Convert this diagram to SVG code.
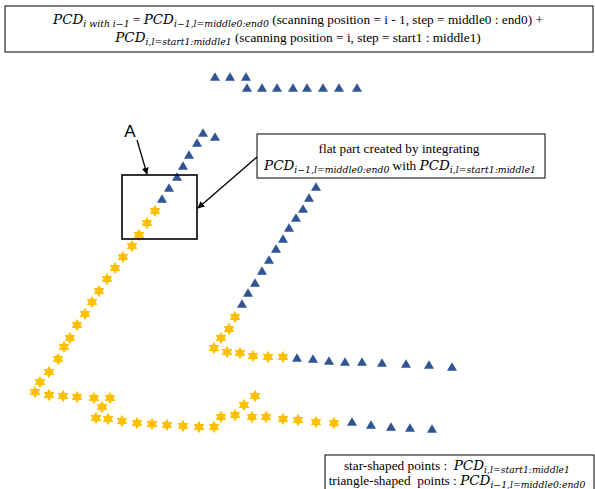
<svg xmlns="http://www.w3.org/2000/svg" xmlns:xlink="http://www.w3.org/1999/xlink" width="595" height="489" viewBox="0 0 595 489">
<style>
.box{fill:#fff;stroke:#000;stroke-width:1}
.boxA{fill:none;stroke:#000;stroke-width:1.6}
.t{font-family:"Liberation Serif","Times New Roman",serif;font-size:13.3px;fill:#000}
.m{font-family:"DejaVu Serif",serif;font-style:italic;font-size:13.5px}
.ms{font-family:"DejaVu Serif",serif;font-style:italic;font-size:9.3px}
.lbl{font-family:"Liberation Sans",Arial,sans-serif;font-size:17px;fill:#000}
.con{stroke:#000;stroke-width:1.3;fill:none;marker-end:url(#ah)}
.st{fill:#FFC000}
.tr{fill:#2F5597}
</style>
<defs>
<marker id="ah" viewBox="0 0 10 10" refX="9" refY="5" markerWidth="7" markerHeight="7" orient="auto" markerUnits="userSpaceOnUse">
<path d="M0,0 L10,5 L0,10 Z" fill="#000"/>
</marker>
<path id="s" class="st" d="M0,-6.2 L1.79,-3.1 L5.37,-3.1 L3.58,0 L5.37,3.1 L1.79,3.1 L0,6.2 L-1.79,3.1 L-5.37,3.1 L-3.58,0 L-5.37,-3.1 L-1.79,-3.1 Z"/>
<path id="tri" class="tr" d="M0,-4.8 L5,3.7 L-5,3.7 Z"/>
</defs>
<rect width="595" height="489" fill="#fff"/>

<g id="title">
<rect class="box" x="5" y="6" width="588" height="46"/>
<text class="t" x="298" y="24" text-anchor="middle"><tspan class="m">PCD</tspan><tspan class="ms" dy="3">i with i−1</tspan><tspan dy="-3">  = </tspan><tspan class="m">PCD</tspan><tspan class="ms" dy="3">i−1,l=middle0:end0</tspan><tspan dy="-3"> (scanning position = i - 1, step = middle0 : end0) +</tspan></text>
<text class="t" x="298" y="42" text-anchor="middle"><tspan class="m">PCD</tspan><tspan class="ms" dy="3">i,l=start1:middle1</tspan><tspan dy="-3"> (scanning position = i, step = start1 : middle1)</tspan></text>
</g>

<g id="triangles">
<use href="#tri" x="215" y="77"/><use href="#tri" x="230" y="77"/><use href="#tri" x="246" y="77"/>
<use href="#tri" x="247" y="88"/><use href="#tri" x="262" y="88"/><use href="#tri" x="277" y="88"/><use href="#tri" x="293" y="88"/><use href="#tri" x="307" y="88"/><use href="#tri" x="323" y="88"/><use href="#tri" x="339" y="88"/><use href="#tri" x="357" y="88"/>
<use href="#tri" x="203" y="133"/><use href="#tri" x="215" y="137"/><use href="#tri" x="197" y="143"/><use href="#tri" x="189" y="155"/><use href="#tri" x="183" y="166"/><use href="#tri" x="177" y="177"/><use href="#tri" x="169" y="188"/><use href="#tri" x="162" y="199"/>
<use href="#tri" x="316" y="187"/><use href="#tri" x="309" y="198"/><use href="#tri" x="303" y="209"/><use href="#tri" x="296" y="218"/><use href="#tri" x="289" y="228"/><use href="#tri" x="283" y="239"/><use href="#tri" x="276" y="249"/><use href="#tri" x="269" y="260"/><use href="#tri" x="262" y="271"/><use href="#tri" x="255" y="283"/><use href="#tri" x="248" y="293"/><use href="#tri" x="242" y="304"/>
<use href="#tri" x="297" y="358"/><use href="#tri" x="313" y="359"/><use href="#tri" x="329" y="361"/><use href="#tri" x="345" y="362"/><use href="#tri" x="362" y="362"/><use href="#tri" x="382" y="363"/><use href="#tri" x="406" y="364"/><use href="#tri" x="429" y="365"/><use href="#tri" x="452" y="367"/>
<use href="#tri" x="352" y="422"/><use href="#tri" x="371" y="425"/><use href="#tri" x="391" y="427"/><use href="#tri" x="410" y="428"/><use href="#tri" x="432" y="429"/>
</g>

<g id="stars">
<use href="#s" x="155" y="211"/><use href="#s" x="147" y="223"/><use href="#s" x="139" y="235"/><use href="#s" x="132" y="246"/><use href="#s" x="123" y="257"/><use href="#s" x="115" y="268"/><use href="#s" x="107" y="279"/><use href="#s" x="99" y="291"/><use href="#s" x="92" y="302"/><use href="#s" x="85" y="314"/><use href="#s" x="77" y="325"/><use href="#s" x="70" y="338"/><use href="#s" x="64" y="347"/><use href="#s" x="58" y="359"/><use href="#s" x="49" y="372"/><use href="#s" x="40" y="382"/><use href="#s" x="35" y="392"/>
<use href="#s" x="49" y="395"/><use href="#s" x="63" y="396"/><use href="#s" x="77" y="397"/><use href="#s" x="94" y="398"/><use href="#s" x="110" y="398"/><use href="#s" x="102" y="407"/><use href="#s" x="96" y="418"/><use href="#s" x="108" y="419"/><use href="#s" x="122" y="421"/><use href="#s" x="137" y="423"/><use href="#s" x="152" y="424"/><use href="#s" x="167" y="425"/><use href="#s" x="183" y="426"/><use href="#s" x="199" y="427"/><use href="#s" x="214" y="427"/><use href="#s" x="221" y="417"/><use href="#s" x="235" y="415"/><use href="#s" x="244" y="405"/><use href="#s" x="255" y="396"/><use href="#s" x="252" y="417"/><use href="#s" x="266" y="417"/><use href="#s" x="283" y="419"/><use href="#s" x="298" y="420"/><use href="#s" x="316" y="422"/><use href="#s" x="334" y="423"/>
<use href="#s" x="235" y="317"/><use href="#s" x="229" y="329"/><use href="#s" x="221" y="338"/><use href="#s" x="214" y="348"/><use href="#s" x="227" y="352"/><use href="#s" x="240" y="353"/><use href="#s" x="253" y="356"/><use href="#s" x="268" y="357"/><use href="#s" x="283" y="357"/>
</g>

<g id="boxA">
<rect class="boxA" x="122" y="175" width="75" height="64"/>
</g>
<g id="labelA">
<text class="lbl" x="130" y="137" text-anchor="middle">A</text>
</g>

<g id="callout">
<rect class="box" x="257" y="134" width="288" height="44"/>
<text class="t" x="399" y="153" text-anchor="middle">flat part created by integrating</text>
<text class="t" x="400" y="170" text-anchor="middle"><tspan class="m">PCD</tspan><tspan class="ms" dy="3">i−1,l=middle0:end0</tspan><tspan dy="-3"> with </tspan><tspan class="m">PCD</tspan><tspan class="ms" dy="3">i,l=start1:middle1</tspan></text>
</g>

<g id="legend">
<rect class="box" x="325" y="455" width="269" height="40"/>
<text class="t" x="457" y="470" text-anchor="middle" xml:space="preserve"><tspan>star-shaped points :  </tspan><tspan class="m">PCD</tspan><tspan class="ms" dy="3">i,l=start1:middle1</tspan></text>
<text class="t" x="457" y="485" text-anchor="middle" xml:space="preserve"><tspan>triangle-shaped  points : </tspan><tspan class="m">PCD</tspan><tspan class="ms" dy="3">i−1,l=middle0:end0</tspan></text>
</g>

<g id="connectors">
<line class="con" x1="137" y1="140" x2="147" y2="174"/>
<line class="con" x1="257" y1="157" x2="198" y2="208"/>
</g>
</svg>
